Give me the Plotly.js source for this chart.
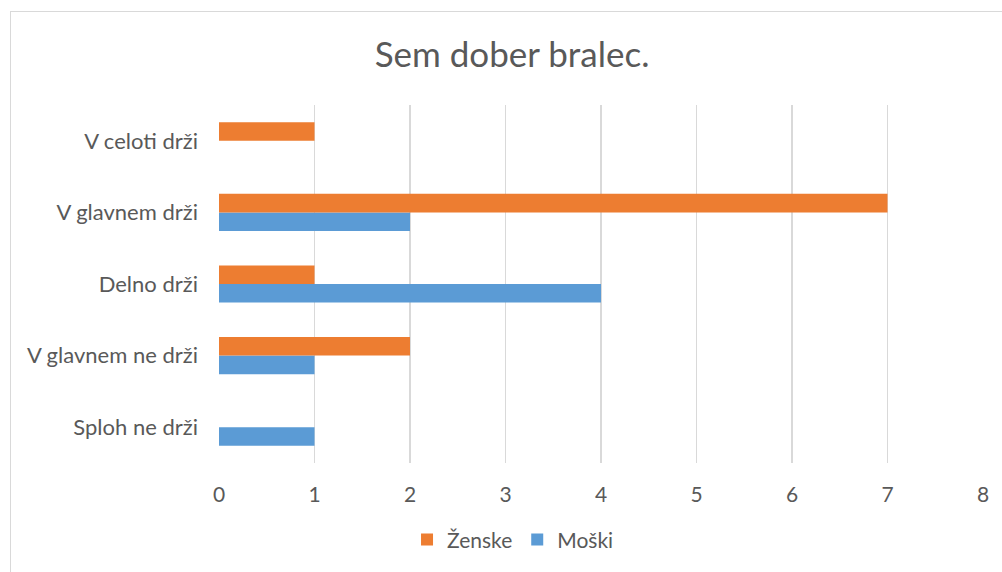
<!DOCTYPE html>
<html>
<head>
<meta charset="utf-8">
<script src="https://cdn.plot.ly/plotly-3.0.1.min.js"></script>
<style>
html,body{margin:0;padding:0;background:#fff;overflow:hidden;}
#chart{width:1002px;height:572px;position:absolute;left:0;top:0;}
#frame{position:absolute;left:10px;top:11px;width:1200px;height:800px;border-left:1px solid #d9d9d9;border-top:1px solid #d9d9d9;pointer-events:none;}
</style>
</head>
<body>
<div id="chart"></div>
<div id="frame"></div>
<script>
const categories = ['Sploh ne drži', 'V glavnem ne drži', 'Delno drži', 'V glavnem drži', 'V celoti drži'];
const zenske = [0, 2, 1, 7, 1];
const moski = [1, 1, 4, 2, 0];
const seriesNames = ['Ženske', 'Moški'];
const xTicks = [0, 1, 2, 3, 4, 5, 6, 7, 8];
const titleText = 'Sem dober bralec.';

const FONT = 'Lato, "Open Sans", sans-serif';
const GREY = '#595959';

const traces = [
  {type: 'bar', orientation: 'h', name: seriesNames[1], y: categories, x: moski,
   marker: {color: '#5B9BD5'}, hoverinfo: 'x+y'},
  {type: 'bar', orientation: 'h', name: seriesNames[0], y: categories, x: zenske,
   marker: {color: '#ED7D31'}, hoverinfo: 'x+y'}
];

const layout = {
  width: 1002, height: 572,
  paper_bgcolor: '#ffffff', plot_bgcolor: '#ffffff',
  margin: {l: 219, r: 18.5, t: 105, b: 109},
  font: {family: FONT, color: GREY, size: 22},
  title: {text: titleText, font: {family: FONT, size: 35, color: GREY},
          x: 0.511, xref: 'container', xanchor: 'center', y: 0.904, yref: 'container', yanchor: 'middle'},
  barmode: 'group', bargap: 0.48, bargroupgap: 0,
  xaxis: {range: [0, 8], tickvals: xTicks, ticktext: xTicks.map(String), showgrid: true,
          gridcolor: '#d9d9d9', gridwidth: 1.5, zeroline: false, showline: false, ticks: '',
          ticklabelstandoff: 17, tickfont: {family: FONT, size: 21, color: GREY}, fixedrange: true},
  yaxis: {type: 'category', categoryorder: 'array', categoryarray: categories,
          showgrid: false, zeroline: false, showline: false, ticks: '',
          ticklabelstandoff: 20, tickfont: {family: FONT, size: 22, color: GREY}, fixedrange: true},
  showlegend: true,
  legend: {orientation: 'h', traceorder: 'reversed', xref: 'container', yref: 'container',
           x: 0.512, xanchor: 'center', y: 0.056, yanchor: 'middle',
           font: {family: FONT, size: 21, color: GREY}, bgcolor: 'rgba(0,0,0,0)'}
};

Plotly.newPlot('chart', traces, layout, {displayModeBar: false, staticPlot: true});
</script>
</body>
</html>
